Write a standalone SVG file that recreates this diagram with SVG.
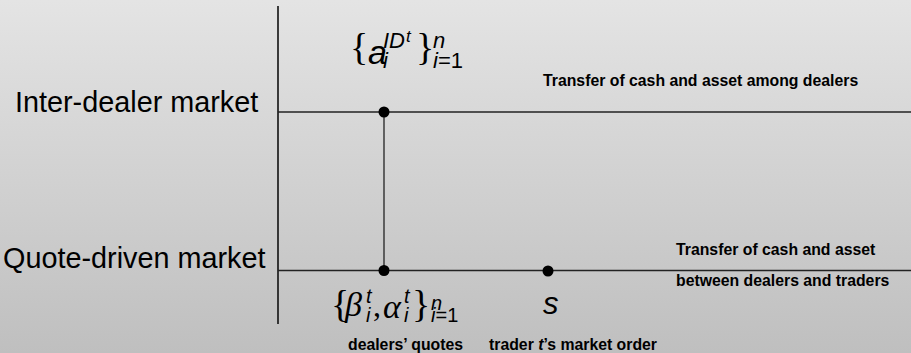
<svg xmlns="http://www.w3.org/2000/svg" width="911" height="353" viewBox="0 0 911 353">
<defs>
<linearGradient id="bg" x1="0" y1="0" x2="0" y2="1">
<stop offset="0" stop-color="#e4e4e4"/>
<stop offset="1" stop-color="#bfbfbf"/>
</linearGradient>
<style>
.ax{stroke:#111;stroke-width:1.6;fill:none}
.ln{stroke:#222;stroke-width:1.3;fill:none}
.dot{fill:#000}
.lab{font-family:"Liberation Sans",Arial,sans-serif;font-size:28.8px;fill:#000}
.note{font-family:"Liberation Sans",Arial,sans-serif;font-size:15.8px;font-weight:bold;fill:#000}
.mi{font-family:"Liberation Sans",Arial,sans-serif;font-style:italic;fill:#000}
.mr{font-family:"Liberation Sans",Arial,sans-serif;fill:#000}
.br{font-family:"Liberation Serif","Times New Roman",serif;fill:#000}
.gk{font-family:"Liberation Serif","Times New Roman",serif;font-style:italic;fill:#000}
</style>
</defs>
<rect x="0" y="0" width="911" height="353" fill="url(#bg)"/>
<g id="connectors">
<line class="ax" x1="278" y1="6" x2="278" y2="324"/>
<line class="ln" x1="278" y1="112" x2="911" y2="112"/>
<line class="ln" x1="278" y1="270.5" x2="911" y2="270.5"/>
<line class="ln" x1="384" y1="112" x2="384" y2="270.5"/>
</g>
<g id="inter-dealer-market">
<text class="lab" x="15" y="112">Inter-dealer market</text>
<text class="note" x="543" y="86">Transfer of cash and asset among dealers</text>
</g>
<g id="quote-driven-market">
<text class="lab" x="3" y="268">Quote-driven market</text>
<text class="note" x="676" y="255">Transfer of cash and asset</text>
<text class="note" x="676" y="286">between dealers and traders</text>
</g>
<g id="node-interdealer">
<circle class="dot" cx="384" cy="112" r="5.5"/>
<text class="br" x="350" y="60" font-size="38">{</text>
<text class="mi" x="368" y="64" font-size="34">a</text>
<text class="mi" x="383" y="48" font-size="22">ID</text>
<text class="mi" x="406" y="42" font-size="17">t</text>
<text class="mi" x="383" y="68" font-size="22">i</text>
<text class="br" x="416" y="60" font-size="38">}</text>
<text class="mi" x="433" y="48" font-size="22">n</text>
<text x="433" y="68" font-size="22"><tspan class="mi">i</tspan><tspan class="mr">=1</tspan></text>
</g>
<g id="node-quotes">
<circle class="dot" cx="384" cy="270.5" r="5.5"/>
<text class="br" x="331" y="317" font-size="38">{</text>
<text class="gk" x="345" y="316" font-size="34">β</text>
<text class="mi" x="366" y="303" font-size="20">t</text>
<text class="mi" x="366" y="322" font-size="20">i</text>
<text class="br" x="373" y="316" font-size="32">,</text>
<text class="gk" x="383" y="318" font-size="34">α</text>
<text class="mi" x="404" y="303" font-size="20">t</text>
<text class="mi" x="404" y="322" font-size="20">i</text>
<text class="br" x="412" y="317" font-size="38">}</text>
<text class="mi" x="431" y="310" font-size="20">n</text>
<text x="431" y="322" font-size="20"><tspan class="mi">i</tspan><tspan class="mr">=1</tspan></text>
<text class="note" x="348" y="350">dealers’ quotes</text>
</g>
<g id="node-order">
<circle class="dot" cx="548" cy="271" r="5.5"/>
<text class="mi" x="543" y="314" font-size="31">s</text>
<text class="note" x="489" y="350">trader <tspan font-style="italic">t</tspan>’s market order</text>
</g>
</svg>
